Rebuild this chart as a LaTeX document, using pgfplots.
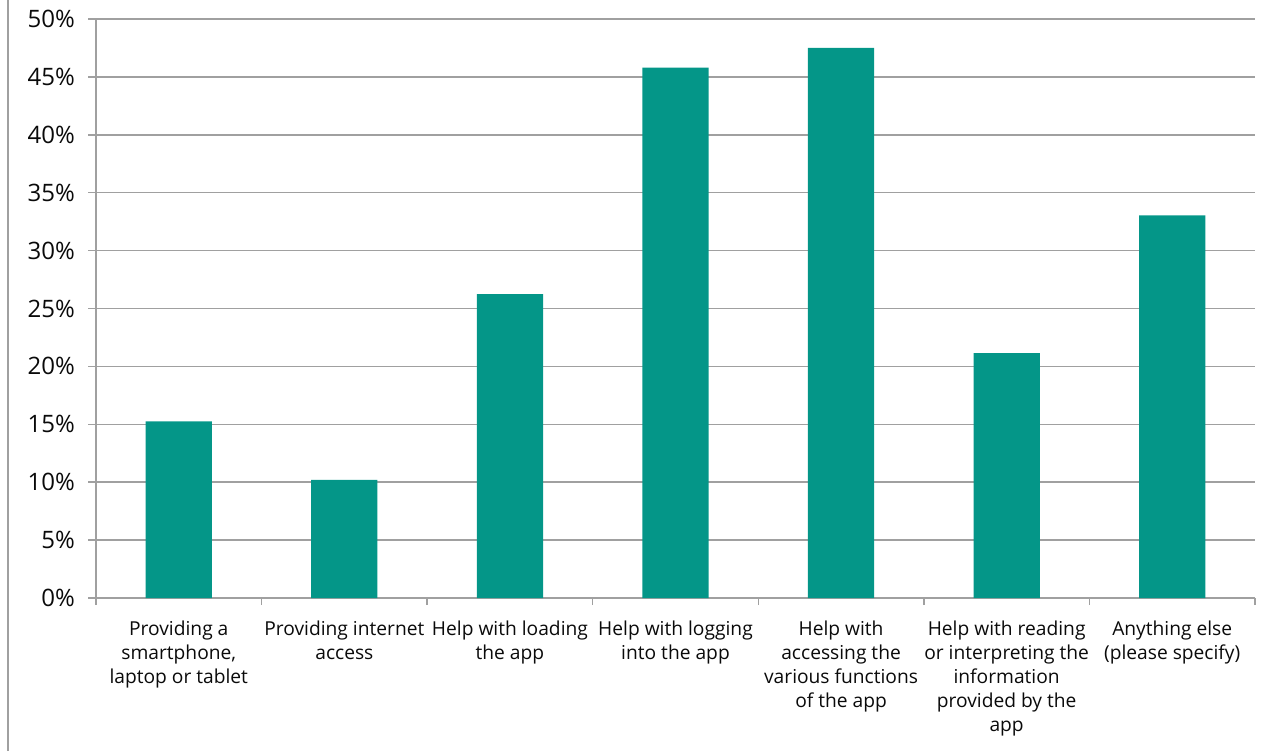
\documentclass[border=0pt]{standalone}
\usepackage{pgfplots}
\pgfplotsset{compat=1.18}
\usepackage{fontspec}
\setmainfont{Open Sans}
\definecolor{barc}{RGB}{4,150,136}
\definecolor{gridc}{RGB}{160,160,160}
\definecolor{txt}{RGB}{10,10,10}
\begin{document}
\begin{tikzpicture}
\useasboundingbox (0,0) rectangle (641.5pt,375.5pt);
\draw[gridc, line width=0.8pt] (4pt,0) -- (4pt,375.5pt);
\begin{axis}[
  at={(48pt,76.5pt)}, anchor=south west,
  scale only axis, width=579.5pt, height=289.5pt,
  xmin=-0.5, xmax=6.5, ymin=0, ymax=50,
  axis x line*=bottom, axis y line*=left,
  axis line style={gridc, line width=0.75pt},
  every tick/.style={gridc, line width=0.75pt},
  xtick={0,...,6},
  xticklabels={
    {Providing a\\smartphone,\\laptop or tablet},
    {Providing internet\\access},
    {Help with loading\\the app},
    {Help with logging\\into the app},
    {Help with\\accessing the\\various functions\\of the app},
    {Help with reading\\or interpreting the\\information\\provided by the\\app},
    {Anything else\\(please specify)}},
  major x tick style={draw=none},
  minor xtick={-0.5,0.5,...,6.5},
  minor tick length=3.5pt,
  xtick align=outside,
  x tick label style={font=\fontsize{9.6}{12}\selectfont, text=txt, align=center, anchor=north, yshift=-4pt},
  ytick={0,5,...,50},
  yticklabel={\pgfmathprintnumber{\tick}\%},
  ytick align=outside, major tick length=4pt,
  y tick label style={font=\fontsize{12}{14}\selectfont, text=txt, xshift=-3pt},
  /pgf/number format/assume math mode=true,
  ymajorgrids, grid style={gridc, line width=0.75pt},
  clip=false,
]
\addplot[ybar, bar width=0.4, fill=barc, draw=none] coordinates {
  (0,15.25) (1,10.2) (2,26.25) (3,45.8) (4,47.5) (5,21.15) (6,33.05)
};
\end{axis}
\end{tikzpicture}
\end{document}
